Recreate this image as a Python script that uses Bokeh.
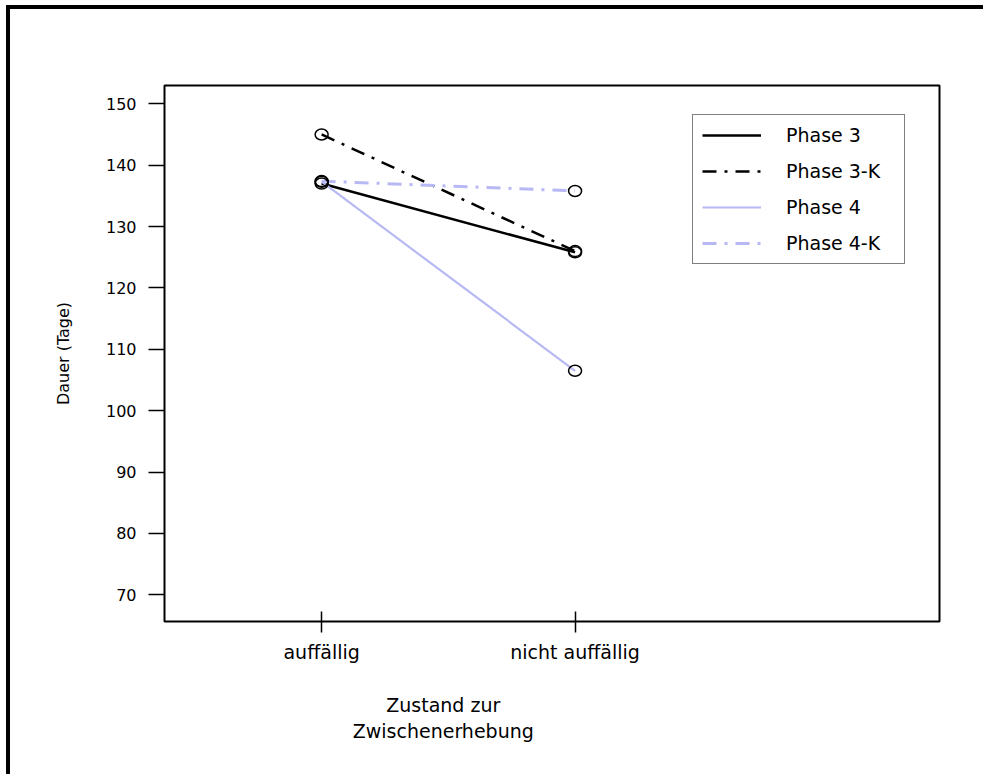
from bokeh.plotting import figure
from bokeh.models import Range1d, FixedTicker, Legend, LegendItem, LinearAxis
from bokeh.embed import file_html
from bokeh.resources import INLINE

# --- data -------------------------------------------------------------
categories = ["auffällig", "nicht auffällig"]
x_pos = [1, 2]
phase3 = [137.0, 125.8]
phase3_k = [145.0, 126.0]
phase4 = [137.3, 106.5]
phase4_k = [137.4, 135.8]
series_names = ["Phase 3", "Phase 3-K", "Phase 4", "Phase 4-K"]
y_ticks = [70, 80, 90, 100, 110, 120, 130, 140, 150]
x_title = "Zustand zur\nZwischenerhebung"

FONT = "DejaVu Sans"
BLACK = "#000000"
LAVENDER = "#b8b8f4"
DASHDOT = "14 8 3 8"
X_TITLE_AT = 1.48   # horizontal centre of the x-axis title, in data units

# The canvas sits inside a heavy black rule on its left and top edges,
# drawn by CSS on the figure's host element; the rule runs to the
# window's right and bottom edges.
p = figure(width=977, height=769, output_backend="svg", toolbar_location=None,
           x_range=Range1d(0.38, 3.438), y_range=Range1d(65.65, 152.98),
           min_border_left=154, min_border_right=48,
           min_border_top=76, min_border_bottom=157)
p.styles = {"margin-left": "6px", "margin-top": "5px",
            "border-left": "4px solid black", "border-top": "4px solid black"}
p.grid.visible = False
p.outline_line_color = "black"
p.outline_line_width = 2
p.background_fill_color = "white"
p.border_fill_color = "white"

# --- series -----------------------------------------------------------
styles = [
    (phase3, BLACK, "solid", 2.5),
    (phase3_k, BLACK, DASHDOT, 2.5),
    (phase4, LAVENDER, "solid", 2.2),
    (phase4_k, LAVENDER, DASHDOT, 3.0),
]
items = []
for name, (vals, color, dash, w) in zip(series_names, styles):
    r = p.line(x_pos, vals, line_color=color, line_dash=dash, line_width=w)
    items.append(LegendItem(label=name, renderers=[r]))

for vals, _, _, _ in styles:
    p.ellipse(x_pos, vals, width=13, height=11,
              width_units="screen", height_units="screen",
              fill_color=None, line_color="black", line_width=1.5)

# --- axes -------------------------------------------------------------
xa = p.xaxis[0]
xa.ticker = FixedTicker(ticks=x_pos)
xa.major_label_overrides = dict(zip(x_pos, categories))
xa.axis_line_color = None
xa.major_tick_in = 10
xa.major_tick_out = 11
xa.major_tick_line_width = 1.5
xa.minor_tick_line_color = None
xa.major_label_text_font = FONT
xa.major_label_text_font_size = "19px"
xa.major_label_text_color = "black"
xa.major_label_standoff = 8

# x-axis title: a second, bare axis whose single label holds both lines
title_axis = LinearAxis(ticker=FixedTicker(ticks=[X_TITLE_AT]),
                        major_label_overrides={X_TITLE_AT: x_title},
                        axis_line_color=None, major_tick_line_color=None,
                        minor_tick_line_color=None,
                        major_tick_in=0, major_tick_out=0,
                        major_label_standoff=28,
                        major_label_text_font=FONT,
                        major_label_text_font_size="19px",
                        major_label_text_line_height=1.2,
                        major_label_text_color="black")
p.add_layout(title_axis, "below")

ya = p.yaxis[0]
ya.ticker = FixedTicker(ticks=y_ticks)
ya.axis_line_color = None
ya.major_tick_in = 0
ya.major_tick_out = 16
ya.major_tick_line_width = 1.5
ya.minor_tick_line_color = None
ya.major_label_text_font = FONT
ya.major_label_text_font_size = "16px"
ya.major_label_text_color = "black"
ya.major_label_standoff = 12
ya.axis_label = "Dauer (Tage)"
ya.axis_label_text_font = FONT
ya.axis_label_text_font_size = "16px"
ya.axis_label_text_font_style = "normal"
ya.axis_label_text_color = "black"
ya.axis_label_standoff = 30

# --- legend -----------------------------------------------------------
legend = Legend(items=items, location=(528, 357), margin=0, padding=9,
                glyph_width=59, glyph_height=22, label_height=22,
                label_width=109, label_standoff=25, spacing=14,
                label_text_font=FONT, label_text_font_size="19px",
                label_text_color="black",
                border_line_color="black", border_line_width=1.5,
                background_fill_color="white", background_fill_alpha=1)
p.add_layout(legend)

open("out.html", "w").write(file_html(p, INLINE))
